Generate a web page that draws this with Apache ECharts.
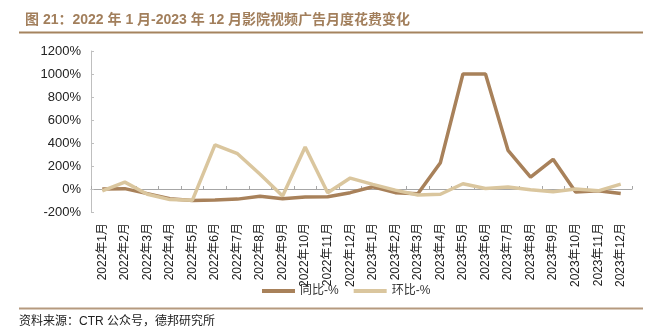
<!DOCTYPE html>
<html>
<head>
<meta charset="utf-8">
<script src="https://cdn.jsdelivr.net/npm/echarts@6/dist/echarts.min.js"></script>
<style>
html,body{margin:0;padding:0;background:#fff;}
#c{width:652px;height:332px;}
</style>
</head>
<body>
<div id="c"></div>
<script>
var categories = ['2022年1月','2022年2月','2022年3月','2022年4月','2022年5月','2022年6月','2022年7月','2022年8月','2022年9月','2022年10月','2022年11月','2022年12月',
  '2023年1月','2023年2月','2023年3月','2023年4月','2023年5月','2023年6月','2023年7月','2023年8月','2023年9月','2023年10月','2023年11月','2023年12月'];
var yoy = [0, 3, -40, -85, -100, -96, -88, -64, -84, -70, -67, -32, 20, -32, -41, 229, 1000, 1000, 336, 104, 258, -26, -15, -40];
var mom = [-17, 60, -46, -92, -97, 383, 307, 128, -61, 365, -32, 95, 40, -10, -52, -46, 46, 4, 17, -6, -23, 0, -16, 42];
var seriesNames = ['同比-%', '环比-%'];
var yTicks = {min: -200, max: 1200, interval: 200};

var FONT = '"Liberation Sans", Arial, "Noto Sans CJK SC", sans-serif';
var chart = echarts.init(document.getElementById('c'), null, {renderer: 'canvas'});
chart.setOption({
  animation: false,
  textStyle: {fontFamily: FONT},
  title: {
    text: '图 21：2022 年 1 月-2023 年 12 月影院视频广告月度花费变化',
    left: 20, top: 8,
    textStyle: {fontFamily: FONT, fontSize: 14, fontWeight: 'bold', color: '#A27F5C'}
  },
  graphic: [
    {type: 'line', shape: {x1: 19, y1: 32.5, x2: 643, y2: 32.5}, style: {stroke: '#A5845F', lineWidth: 2}},
    {type: 'line', shape: {x1: 19, y1: 308.5, x2: 643, y2: 308.5}, style: {stroke: '#B59A7E', lineWidth: 2}},
    {type: 'text', left: 19, top: 316, style: {text: '资料来源：CTR 公众号，德邦研究所', font: '12px ' + FONT, fill: '#222'}}
  ],
  legend: {
    left: 257, top: 280,
    itemWidth: 33, itemHeight: 4, itemGap: 15,
    icon: 'rect',
    textStyle: {fontSize: 12, color: '#333'},
    data: seriesNames
  },
  grid: {left: 91, right: 20, top: 51, bottom: 120},
  xAxis: {
    type: 'category',
    data: categories,
    boundaryGap: true,
    axisLine: {onZero: true, lineStyle: {color: '#A6A6A6', width: 1}},
    axisTick: {show: true, inside: true, length: 3, lineStyle: {color: '#A6A6A6'}},
    axisLabel: {rotate: 90, margin: 11, interval: 0, fontSize: 12, color: '#222'},
    splitLine: {show: false}
  },
  yAxis: {
    type: 'value',
    min: yTicks.min, max: yTicks.max, interval: yTicks.interval,
    axisLine: {show: true, lineStyle: {color: '#BFBFBF', width: 1}},
    axisTick: {show: true, inside: true, length: 3, lineStyle: {color: '#BFBFBF'}},
    axisLabel: {formatter: function (v) { return v + '%'; }, fontSize: 13, color: '#222', margin: 10},
    splitLine: {show: false}
  },
  series: [
    {name: seriesNames[0], type: 'line', data: yoy, symbol: 'none', lineStyle: {width: 3.5, color: '#A8815A'}, itemStyle: {color: '#A8815A'}},
    {name: seriesNames[1], type: 'line', data: mom, symbol: 'none', lineStyle: {width: 3.5, color: '#DAC69E'}, itemStyle: {color: '#DAC69E'}}
  ]
});
</script>
</body>
</html>
